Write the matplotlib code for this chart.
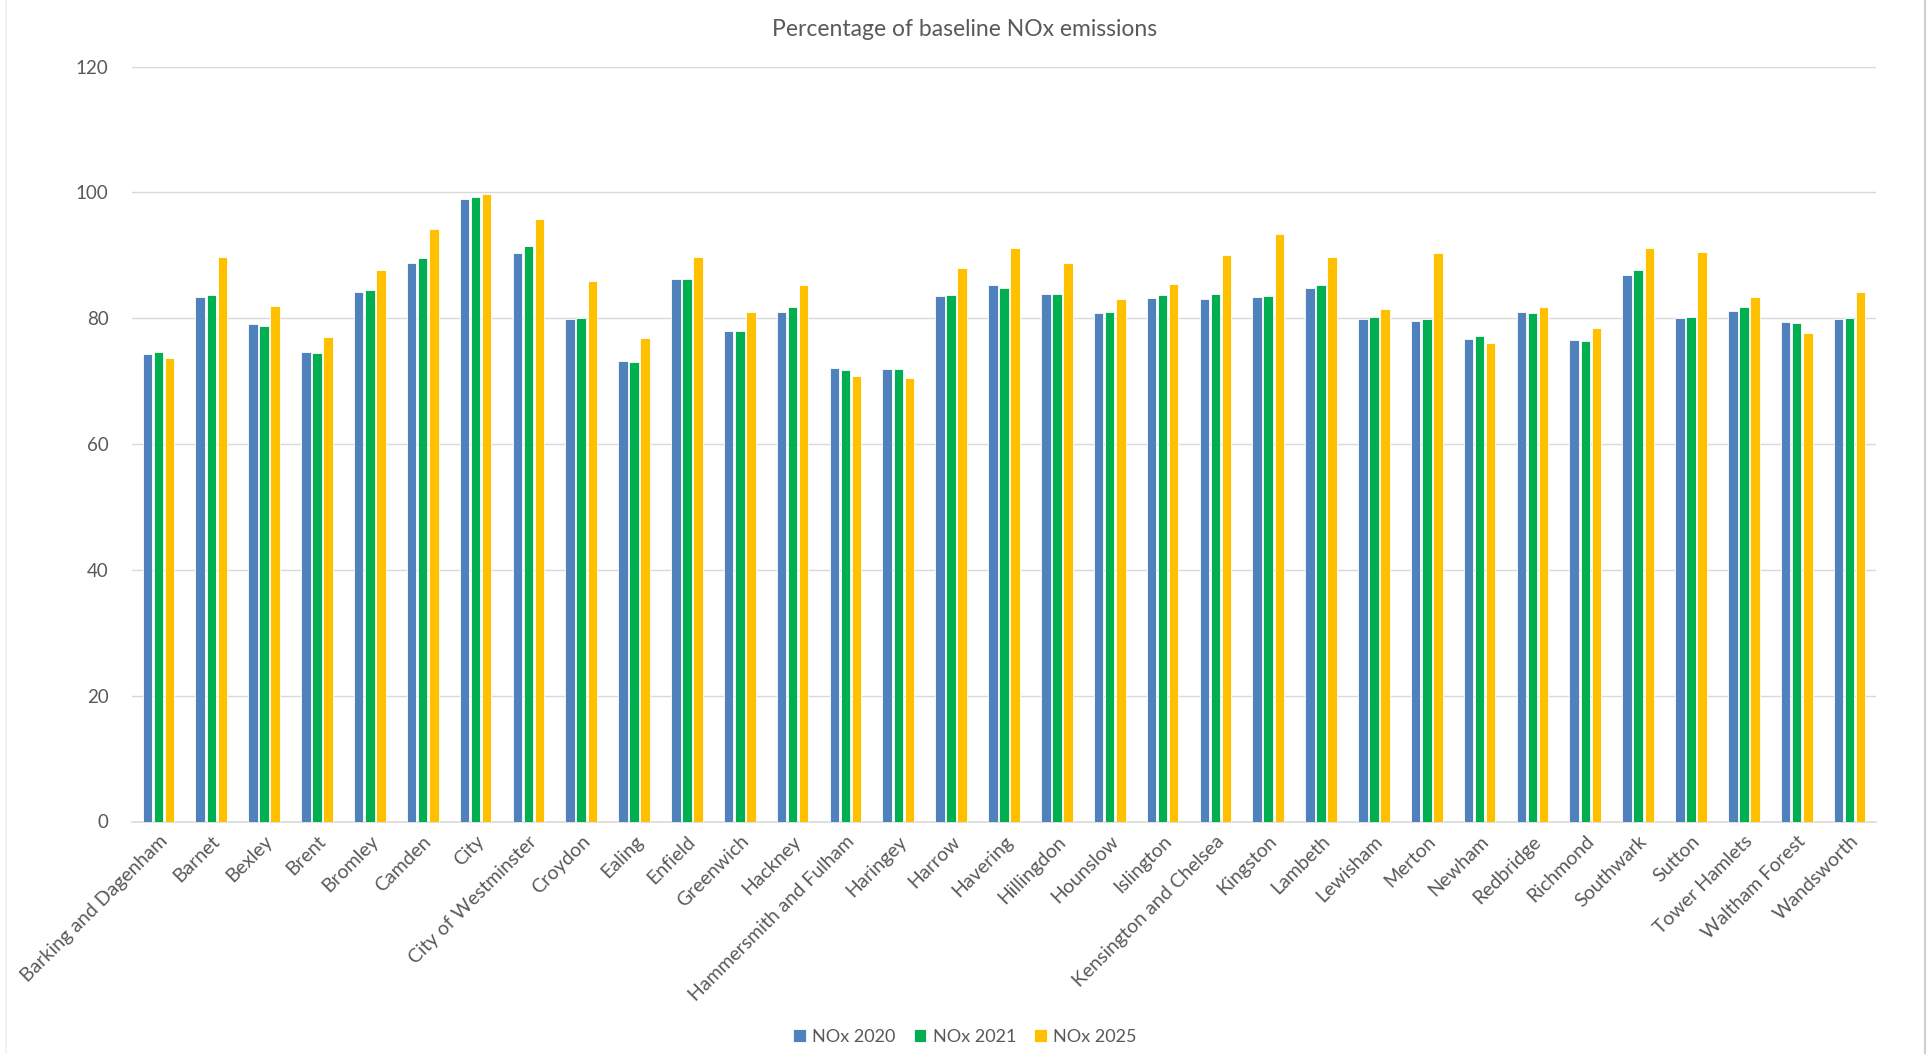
import numpy as np
import matplotlib.pyplot as plt
from matplotlib.lines import Line2D

plt.rcParams['font.family'] = ['Lato', 'DejaVu Sans']

boroughs = ["Barking and Dagenham", "Barnet", "Bexley", "Brent", "Bromley", "Camden",
            "City", "City of Westminster", "Croydon", "Ealing", "Enfield", "Greenwich",
            "Hackney", "Hammersmith and Fulham", "Haringey", "Harrow", "Havering",
            "Hillingdon", "Hounslow", "Islington", "Kensington and Chelsea", "Kingston",
            "Lambeth", "Lewisham", "Merton", "Newham", "Redbridge", "Richmond",
            "Southwark", "Sutton", "Tower Hamlets", "Waltham Forest", "Wandsworth"]

nox_2020 = [74.3, 83.4, 79.0, 74.7, 84.2, 88.7, 99.0, 90.4, 79.9, 73.2, 86.3, 78.0,
            81.0, 72.1, 72.0, 83.6, 85.2, 83.9, 80.8, 83.2, 83.0, 83.4,
            84.8, 79.9, 79.6, 76.7, 81.0, 76.6, 86.9, 80.1, 81.1, 79.4, 79.9]
nox_2021 = [74.7, 83.7, 78.8, 74.4, 84.5, 89.6, 99.2, 91.4, 80.1, 73.1, 86.3, 77.9,
            81.7, 71.8, 71.9, 83.7, 84.8, 83.9, 81.0, 83.7, 83.9, 83.6,
            85.2, 80.2, 79.8, 77.2, 80.8, 76.3, 87.7, 80.2, 81.7, 79.2, 80.1]
nox_2025 = [73.6, 89.8, 82.0, 77.0, 87.7, 94.2, 99.7, 95.7, 85.9, 76.9, 89.8, 81.0,
            85.2, 70.8, 70.5, 88.0, 91.1, 88.7, 83.1, 85.4, 90.0, 93.3,
            89.8, 81.5, 90.4, 76.1, 81.8, 78.4, 91.1, 90.5, 83.4, 77.6, 84.2]

series = [("NOx 2020", nox_2020, "#4F81BD"),
          ("NOx 2021", nox_2021, "#00B050"),
          ("NOx 2025", nox_2025, "#FFC000")]

text_col = "#595959"
x = np.arange(len(boroughs))
w = 0.18
step = 0.21

fig = plt.figure(figsize=(19.3, 10.54), dpi=100)
ax = fig.add_axes([132 / 1930, 1 - 821.5 / 1054, 1744 / 1930, 755 / 1054])

for i, (name, vals, col) in enumerate(series):
    ax.bar(x + (i - 1) * step, vals, w, color=col, edgecolor="white",
           linewidth=0.6, label=name, zorder=3)

ax.set_xlim(-0.5, len(boroughs) - 0.5)
ax.set_ylim(0, 120)
ax.set_yticks(range(0, 121, 20))
ax.grid(axis="y", color="#D9D9D9", linewidth=1, zorder=0)
for s in ["top", "right", "left"]:
    ax.spines[s].set_visible(False)
ax.spines["bottom"].set_color("#D9D9D9")
ax.spines["bottom"].set_linewidth(1.2)

ax.set_xticks(x)
ax.set_xticklabels(boroughs, rotation=45, ha="right", rotation_mode="anchor",
                   fontsize=14, color=text_col)
ax.tick_params(axis="x", length=0, pad=8)
ax.tick_params(axis="y", length=0, pad=17, labelsize=13.5, labelcolor=text_col)

fig.text(0.5, 1 - 30 / 1054, "Percentage of baseline NOx emissions",
         ha="center", va="center", fontsize=16.5, color=text_col)

fig.legend(loc="center", bbox_to_anchor=(0.5, 1 - 1037 / 1054), ncol=3,
           frameon=False, fontsize=13, labelcolor=text_col,
           handlelength=0.7, handleheight=0.7, handletextpad=0.35, columnspacing=1.0)

# chart area edges
fig.add_artist(Line2D([6 / 1930, 6 / 1930], [0, 1], color="#F0F0F0", linewidth=1.2))
fig.add_artist(Line2D([1925 / 1930, 1925 / 1930], [0, 1], color="#D0D0D0", linewidth=1.5))

fig.savefig("out.png", dpi=100)
